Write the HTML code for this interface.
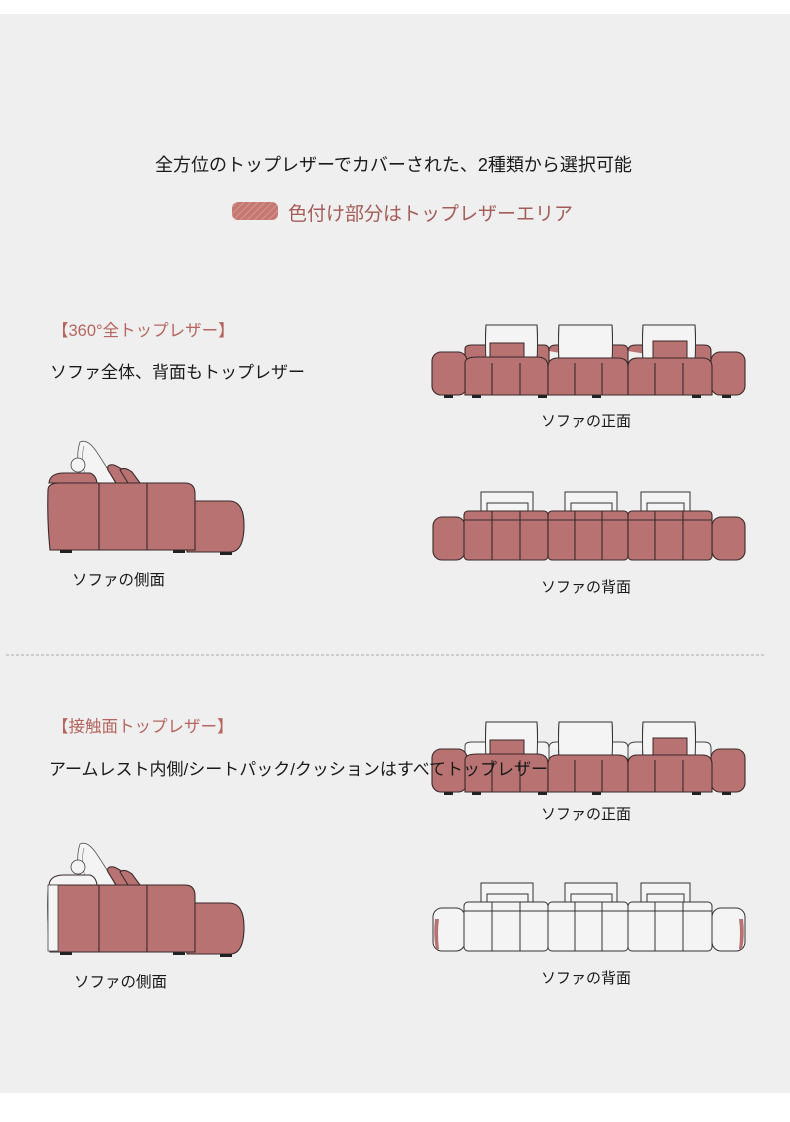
<!DOCTYPE html>
<html><head><meta charset="utf-8"><style>
body{margin:0;background:#fff;}
.w{position:relative;width:790px;height:1122px;overflow:hidden;font-family:"Liberation Sans","Noto Sans CJK JP",sans-serif;}
.bg{position:absolute;left:0;top:14px;width:790px;height:1079px;background:#efefef;}
.t{position:absolute;white-space:nowrap;color:#1a1a1a;}
svg{position:absolute;left:0;top:0;}
</style></head><body><div class="w">
<div class="bg"></div>
<svg width="790" height="1122" viewBox="0 0 790 1122">
<defs>
<pattern id="hat" width="5" height="5" patternUnits="userSpaceOnUse" patternTransform="rotate(45)"><rect width="5" height="5" fill="#c57872"/><line x1="0" y1="0" x2="0" y2="5" stroke="#dba19b" stroke-width="1.5"/></pattern>
<g id="pillows">
<path d="M54 0 H105 Q106 18 105 37 H54 Q53 18 54 0Z" fill="#f4f4f4" stroke="#333" stroke-width="1"/>
<path d="M127 0 H180 Q181 18 180 37 H127 Q126 18 127 0Z" fill="#f4f4f4" stroke="#333" stroke-width="1"/>
<path d="M211 0 H263 Q264 18 263 37 H211 Q210 18 211 0Z" fill="#f4f4f4" stroke="#333" stroke-width="1"/>
</g>
<g id="seats" stroke="#3a2a2a" stroke-width="1.1" fill="#b87272">
<rect x="0" y="27" width="35" height="43" rx="9"/>
<rect x="279" y="27" width="34" height="43" rx="9"/>
<path d="M33 38 Q33 32 45 32 H105 Q116 32 116 42 V70 H33Z"/>
<path d="M116 42 Q116 33 126 33 H186 Q196 33 196 42 V70 H116Z"/>
<path d="M196 42 Q196 33 206 33 H270 Q280 33 280 42 V70 H196Z"/>
<path d="M60 38 V70 M88 38 V70 M143 38 V70 M170 38 V70 M223 38 V70 M251 38 V70" fill="none"/>
<rect x="12" y="70" width="9" height="3" fill="#222" stroke="none"/><rect x="40" y="70" width="9" height="3" fill="#222" stroke="none"/><rect x="106" y="70" width="9" height="3" fill="#222" stroke="none"/><rect x="160" y="70" width="9" height="3" fill="#222" stroke="none"/><rect x="260" y="70" width="9" height="3" fill="#222" stroke="none"/><rect x="290" y="70" width="9" height="3" fill="#222" stroke="none"/>
</g>
<g id="pinkp" fill="#b87272" stroke="#3a2a2a" stroke-width="1">
<rect x="58" y="18" width="34" height="22"/><rect x="221" y="16" width="34" height="24"/>
</g>
<g id="side" stroke="#3a2a2a" stroke-width="1.1">
<path d="M44 4 Q34 -20 40 -38 Q48 -42 58 -26 Q70 -8 76 4" fill="#f4f4f4" stroke="#555" stroke-width="0.8"/>
<path d="M47 2 Q40 -20 44 -34" fill="none" stroke="#777" stroke-width="0.6"/>
<circle cx="38" cy="-15" r="7" fill="#f4f4f4" stroke="#444" stroke-width="0.8"/>
<path d="M68 -10 Q66 -16 74 -15 Q86 -10 97 3 H76Z" fill="#b87272"/>
<path d="M80 -10 Q84 -14 92 -8 L100 3 H88Z" fill="#b87272"/>
<path d="M147 21 H190 Q204 22 204 45 Q204 72 190 72 H147Z" fill="#b87272"/>
<path d="M9 3 Q10 -7 24 -7 H50 Q56 -5 57 3Z" fill="var(--arm)"/>
<path d="M8 10 Q8 3 20 3 H145 Q155 3 155 14 V70 H10 Q7 40 8 10Z" fill="var(--body)"/>
<path d="M59 3 V70 M107 3 V70" fill="none"/>
<rect x="20" y="70" width="12" height="3" fill="#222" stroke="none"/><rect x="133" y="70" width="12" height="3" fill="#222" stroke="none"/><rect x="180" y="72" width="12" height="3" fill="#222" stroke="none"/>
</g>
<g id="backpil" fill="#f4f4f4" stroke="#333" stroke-width="1">
<path d="M49 2 H101 V21 H49Z"/><path d="M55 13 H96 V21 H55Z"/>
<path d="M133 2 H185 V21 H133Z"/><path d="M139 13 H180 V21 H139Z"/>
<path d="M209 2 H258 V21 H209Z"/><path d="M215 13 H252 V21 H215Z"/>
</g>
</defs>

<rect x="232" y="202" width="46" height="18" rx="6" fill="url(#hat)"/>

<g transform="translate(432,325)">
<use href="#pillows"/>
<path d="M33 40 V24 Q33 20 40 20 H112 Q117 20 117 26 V40 M117 26 Q117 20 124 20 H190 Q196 20 196 26 V40 M196 26 Q196 20 204 20 H272 Q279 20 279 26 V40" fill="#b87272" stroke="#3a2a2a" stroke-width="1.1"/>
<use href="#pillows"/>
<use href="#pinkp"/>
<use href="#seats"/>
</g>
<g transform="translate(432,490)">
<use href="#backpil"/>
<g fill="#b87272" stroke="#3a2a2a" stroke-width="1.1">
<rect x="1" y="27" width="32" height="43" rx="9"/><rect x="280" y="27" width="33" height="43" rx="9"/>
<rect x="32" y="21" width="84" height="49" rx="4"/><rect x="116" y="21" width="80" height="49" rx="4"/><rect x="196" y="21" width="84" height="49" rx="4"/>
<path d="M32 30 H280 M60 21 V70 M88 21 V70 M143 21 V70 M170 21 V70 M223 21 V70 M251 21 V70" fill="none"/>
</g>
</g>
<g transform="translate(40,480)" style="--arm:#b87272;--body:#b87272"><use href="#side"/></g>

<line x1="6" y1="655" x2="766" y2="655" stroke="#aaa" stroke-width="1" stroke-dasharray="3,2"/>

<g transform="translate(432,722)">
<use href="#pillows"/>
<path d="M33 40 V24 Q33 20 40 20 H112 Q117 20 117 26 V40 M117 26 Q117 20 124 20 H190 Q196 20 196 26 V40 M196 26 Q196 20 204 20 H272 Q279 20 279 26 V40" fill="#f4f4f4" stroke="#444" stroke-width="1"/>
<use href="#pillows"/>
<use href="#pinkp"/>
<use href="#seats"/>
</g>
<g transform="translate(432,881)">
<use href="#backpil"/>
<g fill="#f4f4f4" stroke="#333" stroke-width="1">
<rect x="1" y="27" width="32" height="43" rx="9"/><rect x="280" y="27" width="33" height="43" rx="9"/>
<rect x="32" y="21" width="84" height="49" rx="4"/><rect x="116" y="21" width="80" height="49" rx="4"/><rect x="196" y="21" width="84" height="49" rx="4"/>
<path d="M32 30 H280 M60 21 V70 M88 21 V70 M143 21 V70 M170 21 V70 M223 21 V70 M251 21 V70" fill="none"/>
<path d="M3 38 Q1 55 4 68 L7 68 Q5 52 7 38Z" fill="#b87272" stroke="none"/>
<path d="M311 38 Q313 55 310 68 L307 68 Q309 52 307 38Z" fill="#b87272" stroke="none"/>
</g>
</g>
<g transform="translate(40,882)" style="--arm:#f4f4f4;--body:#b87272"><use href="#side"/></g>
<rect x="48" y="885" width="10" height="66" fill="#f4f4f4" stroke="#444" stroke-width="0.8"/>
</svg>

<div class="t" style="left:155px;top:151px;font-size:18px;">全方位のトップレザーでカバーされた、2種類から選択可能</div>
<div class="t" style="left:288px;top:199px;font-size:19px;color:#a35c57;">色付け部分はトップレザーエリア</div>

<div class="t" style="left:52px;top:317px;font-size:16.5px;color:#b5655e;">【360°全トップレザー】</div>
<div class="t" style="left:50px;top:358px;font-size:17px;">ソファ全体、背面もトップレザー</div>
<div class="t" style="left:541px;top:410px;font-size:15px;">ソファの正面</div>
<div class="t" style="left:72px;top:568px;font-size:15.5px;">ソファの側面</div>
<div class="t" style="left:541px;top:576px;font-size:15px;">ソファの背面</div>

<div class="t" style="left:52px;top:713px;font-size:16.5px;color:#b5655e;">【接触面トップレザー】</div>
<div class="t" style="left:49px;top:755px;font-size:17px;">アームレスト内側/シートパック/クッションはすべてトップレザー</div>
<div class="t" style="left:541px;top:803px;font-size:15px;">ソファの正面</div>
<div class="t" style="left:74px;top:970px;font-size:15.5px;">ソファの側面</div>
<div class="t" style="left:541px;top:967px;font-size:15px;">ソファの背面</div>
</div></body></html>
